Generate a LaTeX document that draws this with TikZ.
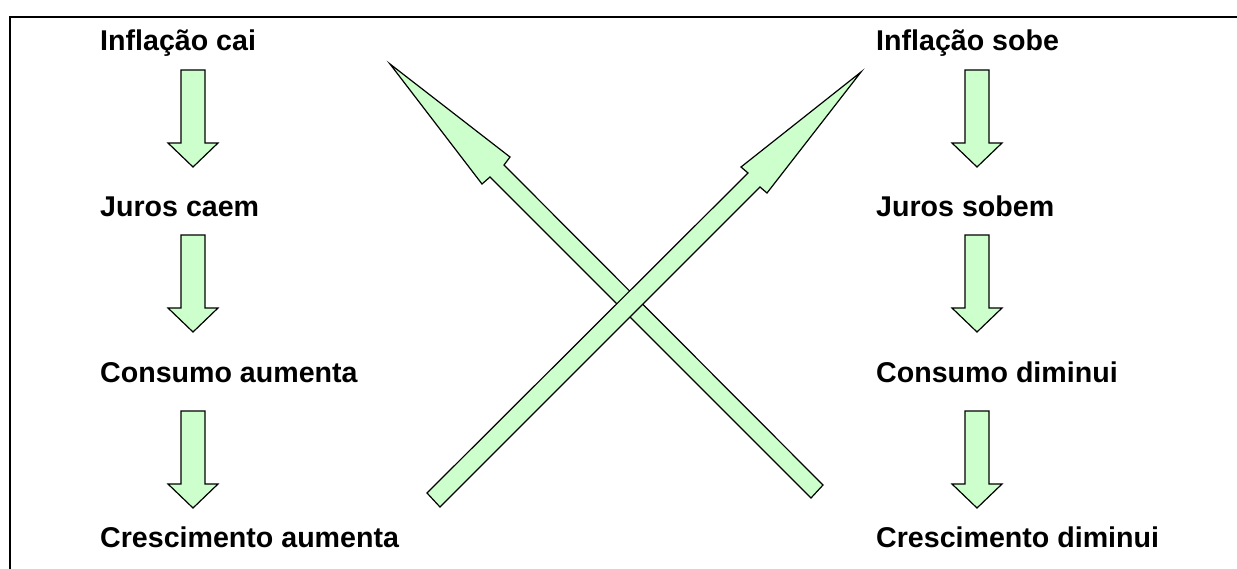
\documentclass[tikz,border=0pt]{standalone}
\usepackage{fontspec}
\setmainfont{Liberation Sans}
\definecolor{arrowfill}{HTML}{CCFFCC}
\tikzset{
  lbl/.style={anchor=base west, inner sep=0pt, font=\fontsize{28.6}{34}\selectfont\bfseries},
  blockarrow/.style={draw=black, fill=arrowfill, line width=1.2pt, line join=miter},
  frameline/.style={draw=black, line width=2.2pt},
  downarr/.pic={
    \path[blockarrow] (-12,0) -- (12,0) -- (12,73) -- (25,73) -- (0,97) -- (-25,73) -- (-12,73) -- cycle;
  }
}
\begin{document}
\begin{tikzpicture}[x=1pt,y=-1pt]
\useasboundingbox (0,0) rectangle (1237,568);
\fill[white] (0,0) rectangle (1237,568);
% frame
\coordinate (fbl) at (10,575);
\coordinate (ftl) at (10,17);
\coordinate (ftr) at (1245,17);
\draw[frameline] (fbl) -- (ftl) -- (ftr);
% left column
\node[lbl] (l1) at (100,50) {Inflação cai};
\node[lbl] (l2) at (100,216) {Juros caem};
\node[lbl] (l3) at (100,382) {Consumo aumenta};
\node[lbl] (l4) at (100,547) {Crescimento aumenta};
% right column
\node[lbl] (r1) at (876,50) {Inflação sobe};
\node[lbl] (r2) at (876,216) {Juros sobem};
\node[lbl] (r3) at (876,382) {Consumo diminui};
\node[lbl] (r4) at (876,547) {Crescimento diminui};
% down arrows
\pic at (193,70) {downarr};
\pic at (193,235) {downarr};
\pic at (193,411) {downarr};
\pic at (977,70) {downarr};
\pic at (977,235) {downarr};
\pic at (977,411) {downarr};
% crossing arrows
\path[blockarrow] (390,64) -- (510,157) -- (504,165) -- (823,485) -- (811,498) -- (490,177) -- (482,184) -- cycle;
\path[blockarrow] (861,72) -- (741,167) -- (748,173) -- (427,493) -- (440,507) -- (760,187) -- (767,193) -- cycle;
\end{tikzpicture}
\end{document}
